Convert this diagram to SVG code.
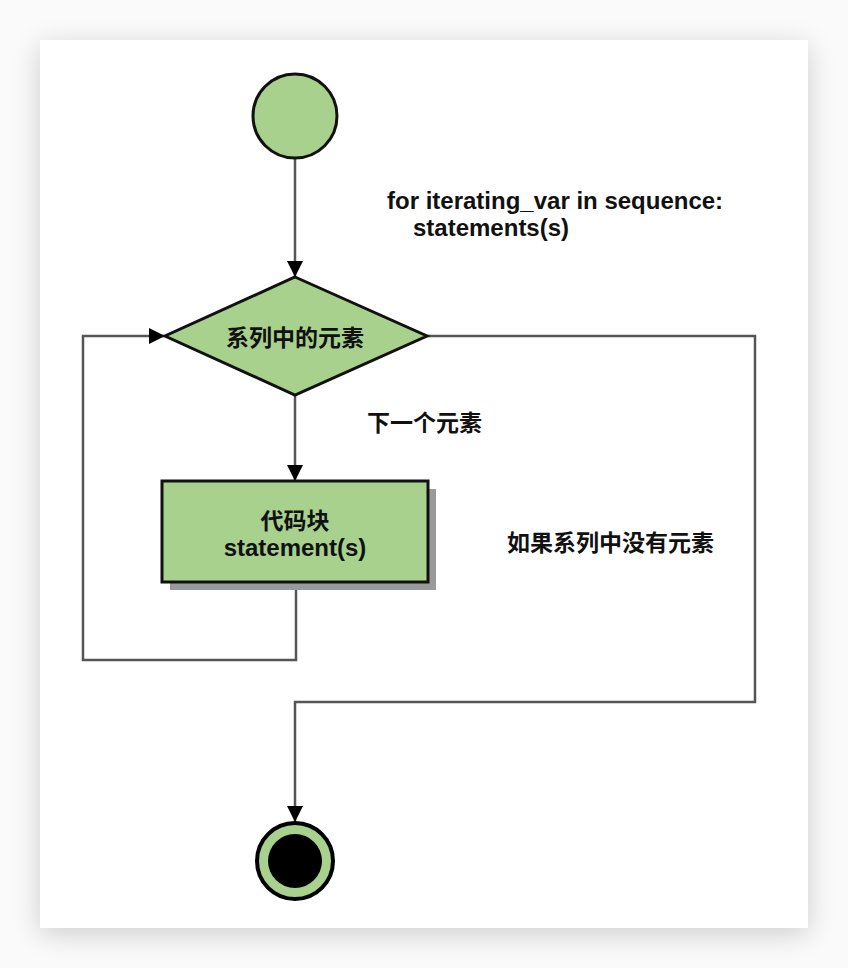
<svg xmlns="http://www.w3.org/2000/svg" width="848" height="968" viewBox="0 0 848 968">
<defs>
<filter id="cardShadow" x="-10%" y="-10%" width="120%" height="120%">
<feGaussianBlur in="SourceAlpha" stdDeviation="14"/>
<feOffset dx="0" dy="6"/>
<feComponentTransfer><feFuncA type="linear" slope="0.18"/></feComponentTransfer>
<feMerge><feMergeNode/><feMergeNode in="SourceGraphic"/></feMerge>
</filter>
<marker id="arrow" viewBox="0 0 16 16" refX="16" refY="8" markerWidth="16" markerHeight="16" markerUnits="userSpaceOnUse" orient="auto">
<path d="M0,0 L16,8 L0,16 Z" fill="#000"/>
</marker>
<style>
.shape{fill:#a8d18d;stroke:#111;stroke-width:3}
.conn{fill:none;stroke:#555;stroke-width:2.5}
.lbl{font-family:"Liberation Sans","Noto Sans CJK SC",Arial,sans-serif;font-weight:bold;fill:#111}
.cjk{font-size:23px}
.lat{font-size:24px}
</style>
</defs>
<rect x="0" y="0" width="848" height="968" fill="#fafafa"/>
<rect x="40" y="40" width="768" height="888" fill="#fff" filter="url(#cardShadow)"/>

<g id="connectors">
<path class="conn" d="M295,158 L295,277" marker-end="url(#arrow)"/>
<path class="conn" d="M295,395 L295,481" marker-end="url(#arrow)"/>
<path class="conn" d="M296,582 L296,660 L83,660 L83,336 L165,336" marker-end="url(#arrow)"/>
<path class="conn" d="M427,336 L755,336 L755,702 L295,702 L295,822" marker-end="url(#arrow)"/>
</g>

<g id="start">
<circle class="shape" cx="295" cy="116" r="42"/>
</g>

<g id="decision">
<polygon class="shape" points="295,277 427,336 295,395 165,336"/>
<text class="lbl cjk" x="295" y="346" text-anchor="middle">系列中的元素</text>
</g>

<g id="block">
<rect x="170" y="489" width="266" height="101" fill="#9a9a9a"/>
<rect class="shape" x="162" y="481" width="266" height="101"/>
<text class="lbl cjk" x="295" y="529" text-anchor="middle">代码块</text>
<text class="lbl lat" x="295" y="556" text-anchor="middle">statement(s)</text>
</g>

<g id="end">
<circle cx="295" cy="861" r="38" fill="#a8d18d" stroke="#000" stroke-width="4"/>
<circle cx="295" cy="861" r="27" fill="#000"/>
</g>

<g id="code-note">
<text class="lbl lat" x="387" y="209">for iterating_var in sequence:</text>
<text class="lbl lat" x="413" y="236">statements(s)</text>
</g>

<g id="next-label">
<text class="lbl cjk" x="367" y="431">下一个元素</text>
</g>

<g id="empty-label">
<text class="lbl cjk" x="507" y="551">如果系列中没有元素</text>
</g>
</svg>
